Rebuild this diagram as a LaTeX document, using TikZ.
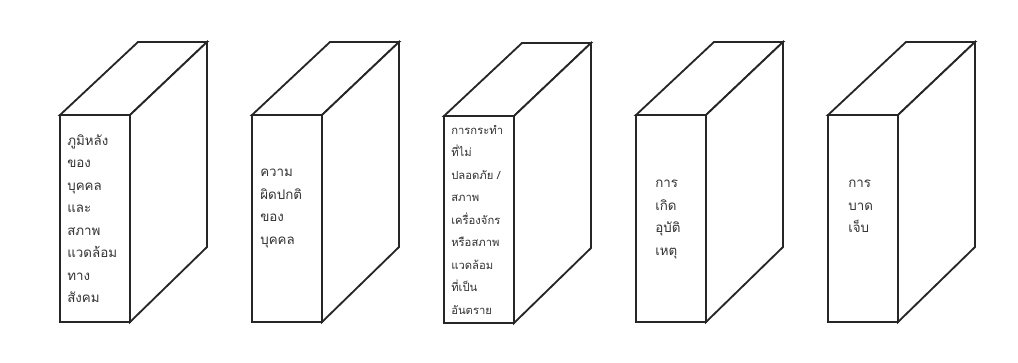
\documentclass[tikz,border=0pt]{standalone}
\usepackage{fontspec}
\newfontfamily\thaifont[Script=Thai]{Loma}
\usetikzlibrary{positioning}

\tikzset{
  ficha/.style={draw=black!85, line width=1.3pt, line join=miter, fill=white},
  texto/.style={anchor=north west, inner sep=0pt, align=left,
    font=\thaifont\fontsize{9.5}{16}\selectfont, text=black!80}
}

\begin{document}
\begin{tikzpicture}[x=0.025cm, y=-0.025cm]
\useasboundingbox (0,0) rectangle (1018,362);
% Ficha 1
\begin{scope}[shift={(60,115)}]
\draw[ficha] (0,0) -- (78,-73) -- (147,-73) -- (70,0) -- cycle;
\draw[ficha] (70,0) -- (147,-73) -- (147,132) -- (70,207) -- cycle;
\draw[ficha] (0,0) rectangle (70,207);
\node[texto] (f1) at (7,19) {ภูมิหลัง\\ของ\\บุคคล\\และ\\สภาพ\\แวดล้อม\\ทาง\\สังคม};
\end{scope}
% Ficha 2
\begin{scope}[shift={(252,115)}]
\draw[ficha] (0,0) -- (78,-73) -- (147,-73) -- (70,0) -- cycle;
\draw[ficha] (70,0) -- (147,-73) -- (147,132) -- (70,207) -- cycle;
\draw[ficha] (0,0) rectangle (70,207);
\node[texto] (f2) at (8,54) {ความ\\ผิดปกติ\\ของ\\บุคคล};
\end{scope}
% Ficha 3
\begin{scope}[shift={(444,116)}]
\draw[ficha] (0,0) -- (78,-73) -- (147,-73) -- (70,0) -- cycle;
\draw[ficha] (70,0) -- (147,-73) -- (147,132) -- (70,207) -- cycle;
\draw[ficha] (0,0) rectangle (70,207);
\node[texto, font=\thaifont\fontsize{8}{16}\selectfont] (f3) at (7,9) {การกระทำ\\ที่ไม่\\ปลอดภัย /\\สภาพ\\เครื่องจักร\\หรือสภาพ\\แวดล้อม\\ที่เป็น\\อันตราย};
\end{scope}
% Ficha 4
\begin{scope}[shift={(636,115)}]
\draw[ficha] (0,0) -- (78,-73) -- (147,-73) -- (70,0) -- cycle;
\draw[ficha] (70,0) -- (147,-73) -- (147,132) -- (70,207) -- cycle;
\draw[ficha] (0,0) rectangle (70,207);
\node[texto] (f4) at (19,65) {การ\\เกิด\\อุบัติ\\เหตุ};
\end{scope}
% Ficha 5
\begin{scope}[shift={(828,115)}]
\draw[ficha] (0,0) -- (78,-73) -- (147,-73) -- (70,0) -- cycle;
\draw[ficha] (70,0) -- (147,-73) -- (147,132) -- (70,207) -- cycle;
\draw[ficha] (0,0) rectangle (70,207);
\node[texto] (f5) at (20,65) {การ\\บาด\\เจ็บ};
\end{scope}
\end{tikzpicture}
\end{document}
